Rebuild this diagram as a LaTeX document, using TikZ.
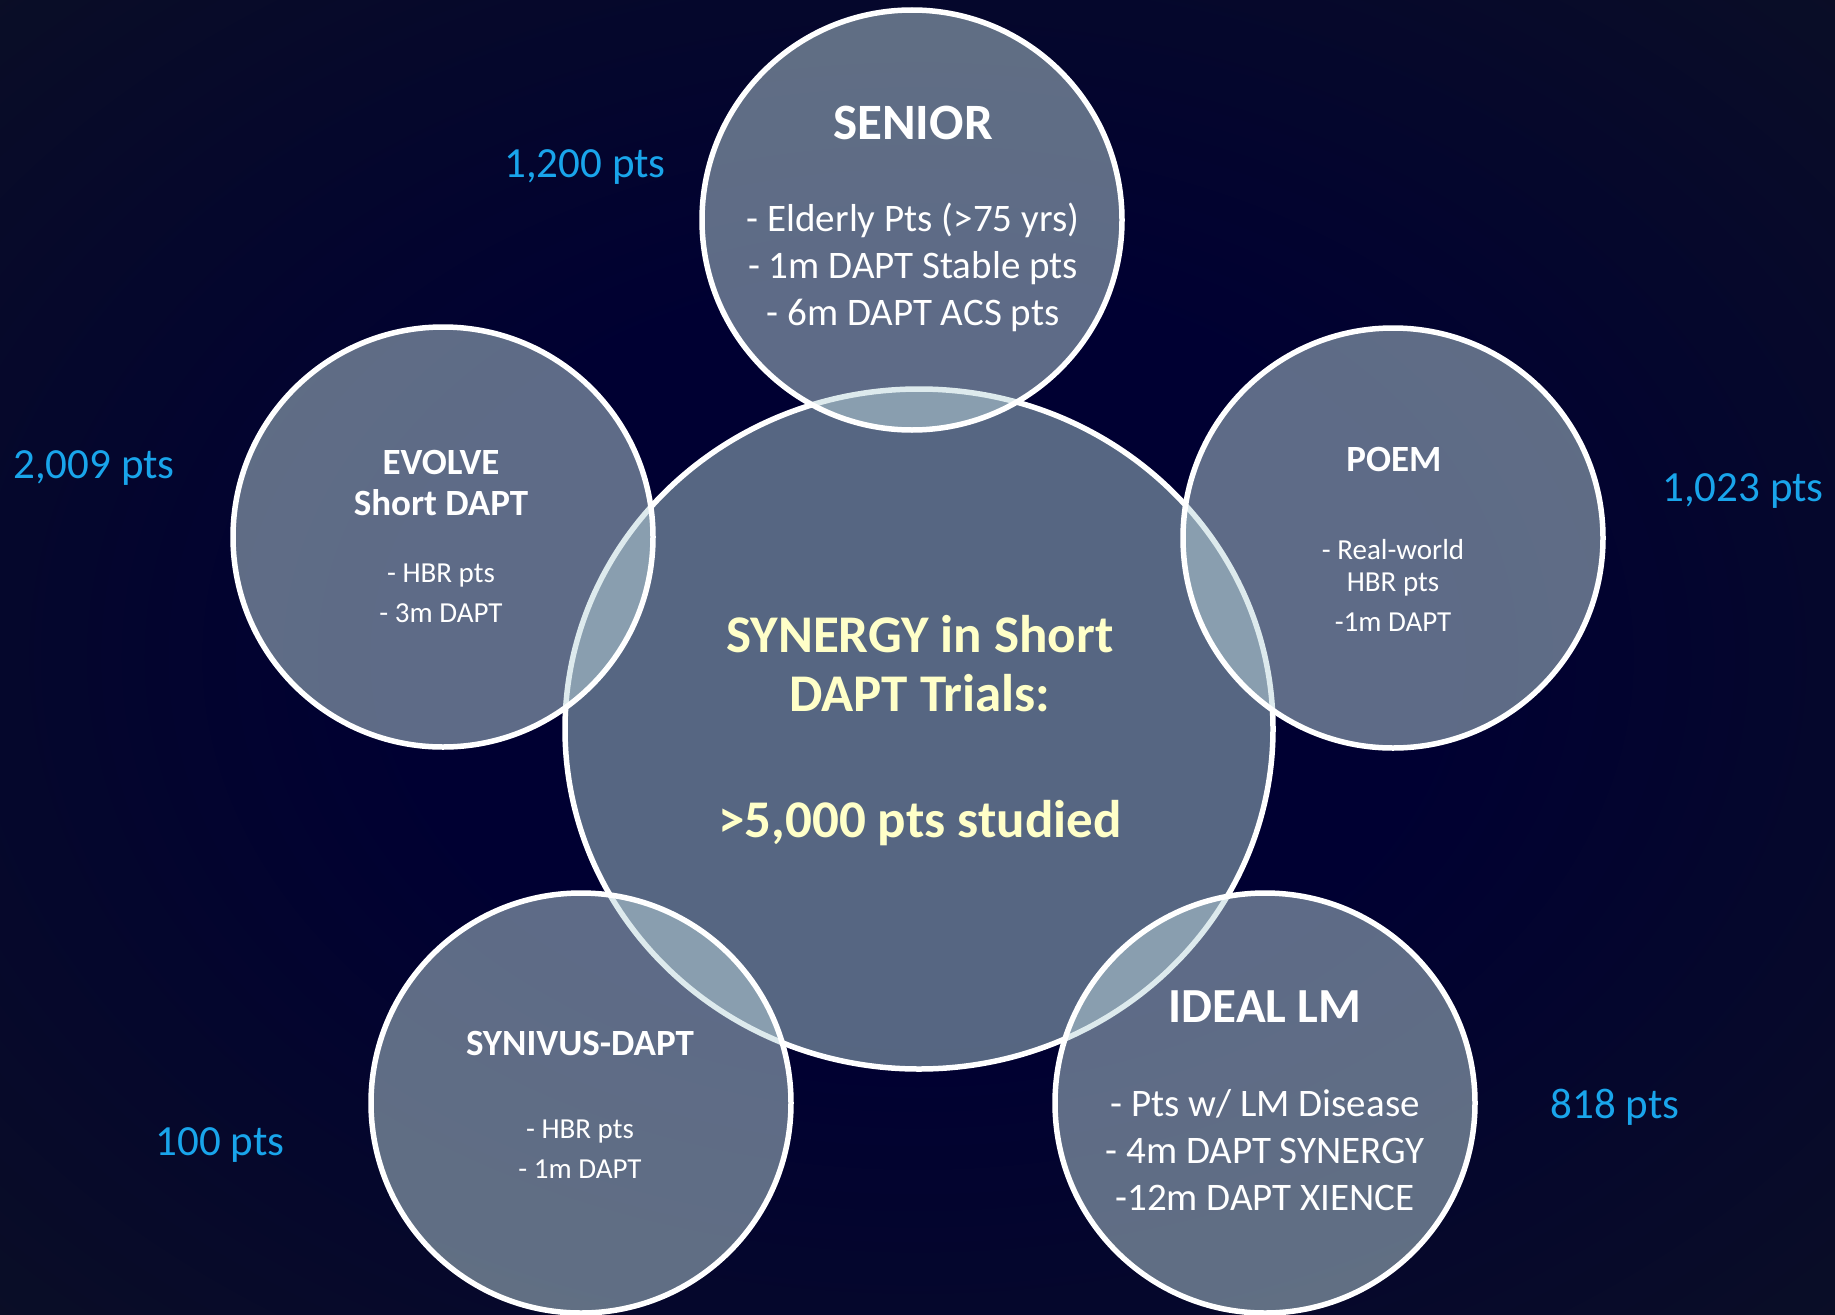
\documentclass[tikz,border=0pt]{standalone}
\usepackage{fontspec}
\setmainfont{Carlito}
\usetikzlibrary{shapes.geometric}
\definecolor{bgin}{RGB}{0,0,50}
\definecolor{bgout}{RGB}{10,14,38}
\definecolor{satfill}{RGB}{188,214,220}
\definecolor{cenfill}{RGB}{172,204,210}
\definecolor{ptsblue}{RGB}{25,165,235}
\definecolor{centxt}{RGB}{255,255,200}
\pgfdeclareradialshading{bgshade}{\pgfpoint{0bp}{0bp}}{color(0bp)=(bgin); color(14bp)=(bgin); color(36bp)=(bgout); color(50bp)=(bgout)}
\begin{document}
\begin{tikzpicture}[x=1pt,y=-1pt,
  sat/.style={circle, draw=white, line width=5.5pt, fill=satfill, fill opacity=0.5, draw opacity=1, minimum size=420pt, inner sep=0pt},
  cen/.style={ellipse, draw=white, line width=5.5pt, fill=cenfill, fill opacity=0.5, draw opacity=1, minimum width=708pt, minimum height=680pt, inner sep=0pt},
  ttl/.style={text=white, align=center, inner sep=0pt},
  body/.style={text=white, align=center, inner sep=0pt},
  pts/.style={text=ptsblue, inner sep=0pt, font=\fontsize{43}{50}\selectfont},
  ctr/.style={text=centxt, align=center, inner sep=0pt, font=\bfseries\fontsize{53}{59}\selectfont}]
\shade[shading=bgshade] (0,0) rectangle (1835,1314);
\useasboundingbox (0,0) rectangle (1835,1314);

% circles
\node[cen] (center) at (919,729) {};
\node[sat] (senior) at (912,220) {};
\node[sat] (evolve) at (443,537) {};
\node[sat] (poem) at (1393,538) {};
\node[sat] (synivus) at (581,1103) {};
\node[sat] (ideal) at (1265,1103) {};

% center text
\node[ctr] (ctitle) at (920,664) {SYNERGY in Short\\DAPT Trials:};
\node[ctr] (cpts) at (920,823) {>5,000 pts studied};

% SENIOR
\node[ttl, font=\bfseries\fontsize{51}{61}\selectfont] (seniorT) at (913,123) {SENIOR};
\node[body, font=\fontsize{39}{47}\selectfont] (seniorB) at (913,267) {- Elderly Pts (>75 yrs)\\- 1m DAPT Stable pts\\- 6m DAPT ACS pts};

% EVOLVE
\node[ttl, font=\bfseries\fontsize{37}{41}\selectfont] (evolveT) at (441,483) {EVOLVE\\Short DAPT};
\node[body, font=\fontsize{29}{40}\selectfont] (evolveB) at (441,593) {- HBR pts\\- 3m DAPT};

% POEM
\node[ttl, font=\bfseries\fontsize{37}{41}\selectfont] (poemT) at (1394,459) {POEM};
\node[body, font=\fontsize{29}{32}\selectfont] (poemB) at (1393,585) {- Real-world\\HBR pts\\[8pt]-1m DAPT};

% SYNIVUS
\node[ttl, font=\bfseries\fontsize{37}{41}\selectfont] (synT) at (580,1043) {SYNIVUS-DAPT};
\node[body, font=\fontsize{29}{40}\selectfont] (synB) at (580,1149) {- HBR pts\\- 1m DAPT};

% IDEAL LM
\node[ttl, font=\bfseries\fontsize{49}{59}\selectfont] (idealT) at (1265,1007) {IDEAL LM};
\node[body, font=\fontsize{39}{47}\selectfont] (idealB) at (1265,1150) {- Pts w/ LM Disease\\- 4m DAPT SYNERGY\\-12m DAPT XIENCE};

% patient counts
\node[pts] (p1) at (585,167) {1,200 pts};
\node[pts] (p2) at (94,468) {2,009 pts};
\node[pts] (p3) at (1743,491) {1,023 pts};
\node[pts] (p4) at (220,1145) {100 pts};
\node[pts] (p5) at (1615,1107) {818 pts};
\end{tikzpicture}
\end{document}
